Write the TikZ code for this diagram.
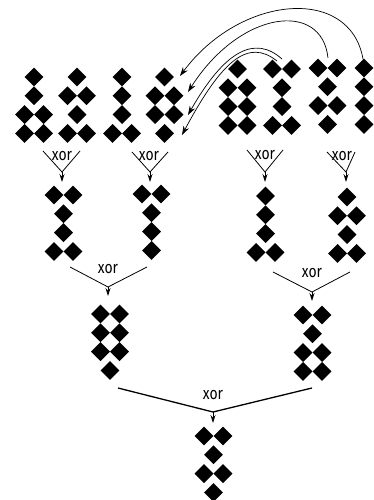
\documentclass[tikz,border=0pt]{standalone}
\usepackage{fontspec}
\newfontfamily\xorfont[FakeStretch=0.82]{Fira Sans}
\usetikzlibrary{arrows.meta}

% half diagonal of one gem, and distance between rows of a block
\def\hd{9.4}
\def\rs{18.8}

% one filled gem centred at (#1,#2)
\newcommand\gemat[2]{\fill[gem] ({#1-\hd},{#2}) -- ({#1},{#2-\hd}) -- ({#1+\hd},{#2}) -- ({#1},{#2+\hd}) -- cycle;}

% a block of four rows: name, x, y of first row, row kinds (1 = single gem, 0 = pair)
\newcommand\bitblock[4]{%
  \coordinate (#1) at (#2,#3);
  \foreach \k [count=\r from 0] in {#4} {%
    \ifnum\k=1
      \gemat{#2}{#3+\r*\rs}%
    \else
      \gemat{#2-9.5}{#3+\r*\rs}\gemat{#2+9.5}{#3+\r*\rs}%
    \fi
  }}

% an xor gate: prefix, left end, right end, meeting point, arrow tip, label position
\newcommand\xorgate[7][]{%
  \coordinate (#2l) at #3;
  \coordinate (#2r) at #4;
  \coordinate (#2v) at #5;
  \coordinate (#2t) at #6;
  \draw[link,#1] (#2l) -- (#2v) -- (#2r);
  \draw[drop] (#2v) -- (#2t);
  \node[lbl] (#2x) at #7 {xor};
}

\begin{document}
\begin{tikzpicture}[x=1pt,y=-1pt,
  gem/.style={fill=black},
  link/.style={line width=0.8pt},
  drop/.style={line width=0.8pt,-{Stealth[length=8pt,width=5pt]}},
  lbl/.style={font=\xorfont\fontsize{17}{17}\selectfont,inner sep=0pt},
  hop/.style={line width=0.7pt,-{Stealth[length=9pt,width=6pt]}}]
\useasboundingbox (0,0) rectangle (373,500);

% top row of inputs
\bitblock{b1}{34}{77}{1,1,0,0}
\bitblock{b2}{77}{77}{1,0,1,0}
\bitblock{b3}{122}{77}{1,1,1,0}
\bitblock{b4}{164.5}{77}{1,0,0,1}
\bitblock{b5}{237.5}{69}{1,0,0,0}
\bitblock{b6}{282}{69}{0,1,1,0}
\bitblock{b7}{327.5}{68}{0,1,0,1}
\bitblock{b8}{364}{68}{1,1,1,1}

% first level of xor
\xorgate{g1}{(43,151)}{(80,151)}{(62,172)}{(62,182)}{(62,156)}
\xorgate{g2}{(132,152)}{(168,152)}{(150,172)}{(150,182)}{(149,156)}
\xorgate{g3}{(247,150)}{(283,150)}{(265,172)}{(265,182)}{(265,155)}
\xorgate{g4}{(327,152)}{(355,152)}{(346,172)}{(346,182)}{(342,156)}

\bitblock{r1}{63.5}{195}{0,1,1,0}
\bitblock{r2}{151.5}{194}{0,1,1,1}
\bitblock{r3}{265.5}{196}{1,1,1,0}
\bitblock{r4}{347}{197}{1,0,1,0}

% second level
\xorgate{g5}{(70,267)}{(147,267)}{(108,287)}{(108,296)}{(108,269)}
\xorgate{g6}{(273,272)}{(350,272)}{(312,292)}{(312,301)}{(312,273)}

\bitblock{r5}{110}{314}{0,0,0,1}
\bitblock{r6}{312.5}{315}{0,1,0,0}

% last level
\xorgate[line width=1.3pt]{g7}{(118,388)}{(312,388)}{(213,412)}{(213,423)}{(213,395)}

\bitblock{fin}{213.5}{436}{0,1,0,1}

% moves from the right inputs onto the fourth block
\coordinate (sa) at (363,59);
\coordinate (sb) at (328,58);
\coordinate (sc) at (282,59);
\coordinate (sd) at (277,61);
\coordinate (ta) at (180,76);
\coordinate (tb) at (188,92);
\coordinate (tc) at (188,115);
\coordinate (td) at (182,135);
\draw[hop] (sa) .. controls (350,-15) and (240,-5) .. (ta);
\draw[hop] (sb) .. controls (322,0) and (240,10) .. (tb);
\draw[hop] (sc) .. controls (255,35) and (225,50) .. (tc);
\draw[hop] (sd) .. controls (248,38) and (222,60) .. (td);
\end{tikzpicture}
\end{document}
